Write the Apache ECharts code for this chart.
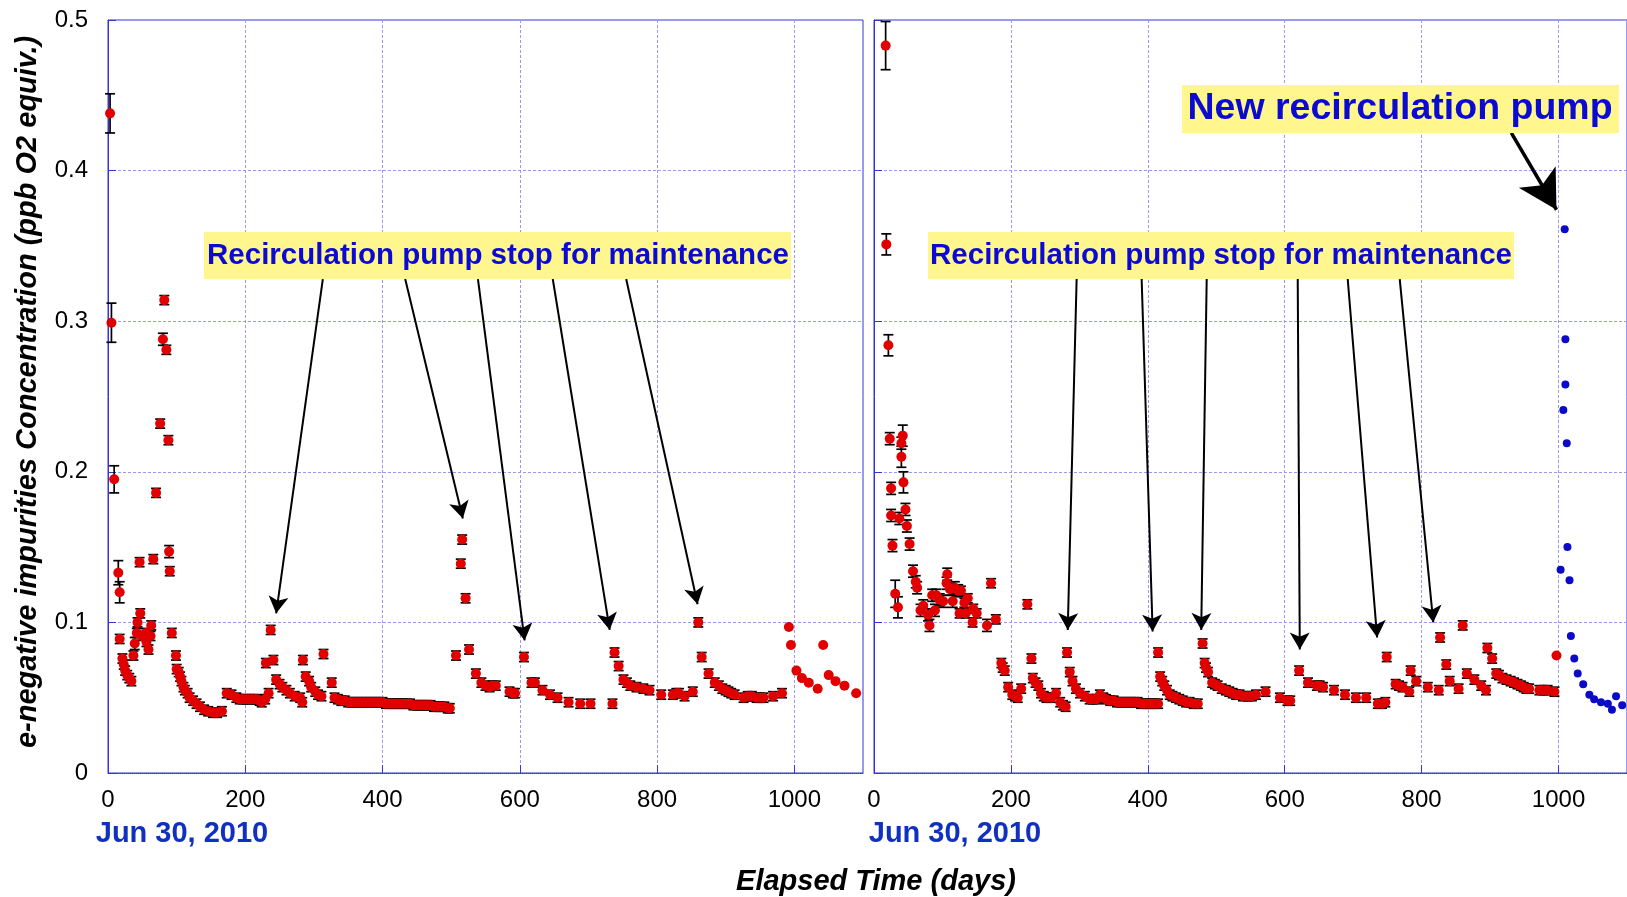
<!DOCTYPE html>
<html>
<head>
<meta charset="utf-8">
<script src="https://cdn.jsdelivr.net/npm/echarts@6/dist/echarts.min.js"></script>
<style>
  html, body { margin: 0; padding: 0; background: #fff; }
  #chart { width: 1627px; height: 897px; }
</style>
</head>
<body>
<div id="chart"></div>
<script>
// 数据: [天数, 浓度, 误差] (误差缺省用 SMALL_ERR)
var SMALL_ERR = 0.003;

var leftRed = [
  [3,0.438,0.013],[5,0.299,0.013],[9,0.195,0.009],[15,0.133,0.008],[17,0.120,0.007],[17,0.089],
  [21,0.076],[23,0.072],[25,0.068],[28,0.065],[31,0.063],[34,0.061],[37,0.078],[39,0.086,0.004],
  [42,0.093],[43,0.100],[46,0.140],[47,0.106],[49,0.091],[55,0.093],[56,0.087],[59,0.082],
  [62,0.091],[63,0.098],[66,0.142],[70,0.186],[76,0.232],[80,0.288,0.004],[82,0.314],[85,0.281],
  [88,0.221],[89,0.147,0.004],[90,0.134],[93,0.093],[99,0.078],[100,0.069],[103,0.067],[105,0.064],
  [107,0.061],[110,0.057],[112,0.055],[116,0.053],[119,0.050],[124,0.048],[129,0.046],[134,0.044],
  [140,0.042],[146,0.041],[153,0.040],[159,0.040],[166,0.041],
  [173,0.053],[180,0.052],[187,0.050],[192,0.049],[197,0.049],[202,0.049],[207,0.049],[212,0.049],
  [217,0.049],[221,0.048],[224,0.047],[229,0.049],[234,0.053],
  [230,0.073],[237,0.095],[241,0.075],[245,0.062],[250,0.059],[254,0.057],[260,0.055],[265,0.053],
  [272,0.051],[280,0.050],[283,0.047],
  [284,0.075],[288,0.064],[293,0.061],[296,0.057],[302,0.054],[306,0.052],[311,0.051],
  [314,0.079],[326,0.060],
  [330,0.050],[335,0.049],[340,0.048],[345,0.048],[350,0.047],[355,0.047],[360,0.047],[365,0.047],
  [370,0.047],[375,0.047],[380,0.047],[385,0.047],[390,0.047],[395,0.047],[400,0.047],[405,0.046],
  [410,0.046],[415,0.046],[420,0.046],[425,0.046],[430,0.046],[435,0.046],[440,0.046],[445,0.045],
  [450,0.045],[455,0.045],[460,0.045],[465,0.045],[470,0.045],[475,0.044],[480,0.044],[485,0.044],
  [490,0.044],[495,0.043],[498,0.043],
  [507,0.078],[514,0.139],[516,0.155],[521,0.116],[526,0.082],[536,0.066],[544,0.060],[550,0.058],
  [556,0.057],[560,0.058],[565,0.058],[585,0.054],[590,0.053],[593,0.053],
  [606,0.077],[617,0.060],[622,0.060],[633,0.055],[644,0.052],[655,0.050],[671,0.047],[688,0.046],
  [703,0.046],
  [735,0.046],[738,0.080],[744,0.071],[751,0.062],[756,0.060],[761,0.058],[770,0.057],[780,0.056],
  [789,0.055],[806,0.052],[823,0.052],[828,0.053],[832,0.053],[840,0.051],[852,0.054],
  [860,0.100],[865,0.077],[875,0.066],[884,0.060],[890,0.058],[895,0.056],[900,0.055],[904,0.054],
  [908,0.053],[913,0.052],[926,0.050],[932,0.051],[938,0.051],[945,0.050],[950,0.050],[955,0.050],
  [969,0.051],[982,0.053]
];
// 无误差棒的点
var leftRedNoErr = [
  [992,0.097],[995,0.085],[1003,0.068],[1011,0.063],[1021,0.060],[1034,0.056],[1042,0.085],
  [1050,0.065],[1060,0.061],[1073,0.058],[1090,0.053]
];

var rightRed = [
  [17,0.483,0.016],[18,0.351,0.007],[21,0.284,0.007],[23,0.222,0.004],[25,0.189,0.004],[25,0.171,0.004],
  [27,0.151,0.004],[31,0.119,0.009],[35,0.110,0.007],[37,0.169,0.004],[40,0.219,0.004],[40,0.210,0.007],
  [42,0.224,0.007],[43,0.193,0.007],[46,0.175,0.004],[48,0.164,0.004],[52,0.152,0.004],[57,0.134,0.004],
  [61,0.127,0.004],[63,0.123,0.004],[68,0.108,0.004],[72,0.111,0.004],[79,0.105,0.004],[81,0.098,0.004],
  [85,0.118,0.004],[89,0.108,0.004],[91,0.118,0.004],[96,0.115,0.004],[101,0.114,0.004],[106,0.126,0.004],
  [107,0.132,0.004],[111,0.122,0.004],[115,0.114,0.004],[118,0.123,0.004],[123,0.121,0.004],[125,0.106],
  [127,0.121],[132,0.113],[134,0.106],[137,0.116],[144,0.100],[145,0.109],[150,0.106],
  [165,0.098,0.004],[171,0.126],[178,0.102],
  [186,0.073],[188,0.070],[191,0.068],[196,0.057],[202,0.052],[206,0.051],[210,0.050],[215,0.056],
  [224,0.112],[230,0.076],[232,0.063],[236,0.060],[240,0.058],[244,0.053],[248,0.051],[252,0.050],
  [259,0.050],[266,0.053],[272,0.047],[276,0.045],[280,0.044],
  [282,0.080],[286,0.067],[290,0.061],[295,0.056],[301,0.053],[308,0.051],[315,0.049],[320,0.049],
  [325,0.049],[330,0.052],[335,0.050],[339,0.049],[345,0.048],[350,0.048],[355,0.047],[360,0.047],
  [365,0.047],[370,0.047],[375,0.047],[380,0.047],[385,0.047],[390,0.046],[395,0.046],[400,0.046],
  [405,0.046],[410,0.046],[415,0.046],
  [415,0.080],[418,0.064],[421,0.061],[424,0.058],[428,0.055],[432,0.052],[436,0.051],[441,0.050],
  [446,0.049],[451,0.048],[456,0.047],[461,0.047],[467,0.046],[473,0.046],
  [480,0.086],[483,0.073],[485,0.070],[488,0.067],[494,0.060],[498,0.059],[502,0.058],[508,0.056],
  [514,0.055],[519,0.054],[524,0.053],[529,0.052],[534,0.052],[539,0.051],[546,0.051],[552,0.051],
  [558,0.052],[572,0.054],[593,0.050],[604,0.048],[608,0.048],
  [621,0.068],[634,0.060],[647,0.058],[651,0.058],[656,0.057],[672,0.055],[688,0.052],[704,0.050],
  [719,0.050],[736,0.046],[742,0.046],[747,0.047],
  [749,0.077],[762,0.059],[767,0.058],[772,0.057],[782,0.054],[784,0.068],[792,0.061],[809,0.057],
  [825,0.055],[827,0.090],[836,0.072],[841,0.061],[854,0.056],[860,0.098],[866,0.066],[877,0.062],
  [887,0.058],[894,0.055],
  [896,0.083],[903,0.076],[909,0.066],[913,0.065],[918,0.063],[924,0.062],[930,0.061],[935,0.060],
  [940,0.059],[945,0.058],[949,0.057],[953,0.056],[957,0.056],[972,0.055],[978,0.055],[984,0.055],
  [994,0.054]
];
var rightRedNoErr = [[997,0.078]];

// 新循环泵之后
var rightBlue = [
  [1003,0.135],[1007,0.241],[1009,0.361],[1010,0.288],[1010,0.258],[1012,0.219],[1013,0.150],
  [1016,0.128],[1018,0.091],[1023,0.076],[1028,0.066],[1036,0.059],[1045,0.052],[1052,0.049],
  [1062,0.047],[1072,0.046],[1078,0.042],[1084,0.051],[1093,0.045]
];

// 箭头: [起点天数, 起点浓度, 终点天数, 终点浓度]
var leftArrows = [
  [313,0.328,245,0.106],[433,0.328,517,0.169],[539,0.328,607,0.088],
  [648,0.328,731,0.095],[755,0.328,859,0.112]
];
var rightArrows = [
  [296,0.328,283,0.095],[391,0.328,407,0.094],[486,0.328,478,0.095],
  [619,0.328,622,0.082],[692,0.328,735,0.090],[768,0.328,817,0.100]
];
var pumpArrow = [[931,0.425,997,0.374]];

var xTicks = [0, 200, 400, 600, 800, 1000];
var yTicks = [0, 0.1, 0.2, 0.3, 0.4, 0.5];

var FONT = 'Liberation Sans, Arial, Helvetica, sans-serif';
var AXIS_BLUE = '#3434d6';
var GRID_BLUE = '#9a9af0';

var myChart = echarts.init(document.getElementById('chart'));

function withErr(arr) {
  return arr.map(function (p) { return [p[0], p[1], p.length > 2 ? p[2] : SMALL_ERR]; });
}

function renderErr(params, api) {
  var x = api.value(0), y = api.value(1), e = api.value(2);
  var top = api.coord([x, y + e]);
  var bot = api.coord([x, y - e]);
  var w = 5;
  var st = { stroke: '#000', lineWidth: 1.7 };
  return {
    type: 'group',
    children: [
      { type: 'line', shape: { x1: top[0], y1: top[1], x2: bot[0], y2: bot[1] }, style: st },
      { type: 'line', shape: { x1: top[0] - w, y1: top[1], x2: top[0] + w, y2: top[1] }, style: st },
      { type: 'line', shape: { x1: bot[0] - w, y1: bot[1], x2: bot[0] + w, y2: bot[1] }, style: st }
    ]
  };
}

function arrowLines(list) {
  return list.map(function (a) {
    return [{ coord: [a[0], a[1]] }, { coord: [a[2], a[3]] }];
  });
}

function xAxisFor(idx, showLabel) {
  return {
    gridIndex: idx, type: 'value', min: 0, max: 1100, interval: 200,
    axisLine: { show: true, lineStyle: { color: AXIS_BLUE, width: 1, type: 'dotted' } },
    axisTick: { show: true, inside: true, length: 8, lineStyle: { color: AXIS_BLUE } },
    axisLabel: {
      show: showLabel, showMaxLabel: false, fontSize: 24, color: '#000', fontFamily: FONT, margin: 15,
      formatter: function (v) { return xTicks.indexOf(v) >= 0 ? String(v) : ''; }
    },
    splitLine: { show: true, lineStyle: { color: GRID_BLUE, width: 1, type: [3, 2] } }
  };
}

function yAxisFor(idx, showLabel) {
  return {
    gridIndex: idx, type: 'value', min: 0, max: 0.5, interval: 0.1,
    axisLine: { show: true, lineStyle: { color: AXIS_BLUE, width: 1 } },
    axisTick: { show: true, inside: true, length: 8, lineStyle: { color: AXIS_BLUE } },
    axisLabel: {
      show: showLabel, fontSize: 24, color: '#000', fontFamily: FONT, margin: 20,
      formatter: function (v) {
        var k = Math.round(v * 10);
        return k === 0 ? '0' : (yTicks[k]).toFixed(1);
      }
    },
    splitLine: { show: true, lineStyle: { color: GRID_BLUE, width: 1, type: [3, 2] } }
  };
}

var arrowStyle = { color: '#000', width: 2, type: 'solid' };

var option = {
  animation: false,
  grid: [
    { left: 108, top: 20, width: 755, height: 753, show: true, borderColor: AXIS_BLUE, borderWidth: 1 },
    { left: 874, top: 20, width: 755, height: 753, show: true, borderColor: AXIS_BLUE, borderWidth: 1 }
  ],
  xAxis: [xAxisFor(0, true), xAxisFor(1, true)],
  yAxis: [yAxisFor(0, true), yAxisFor(1, false)],
  series: [
    // 误差棒
    { type: 'custom', xAxisIndex: 0, yAxisIndex: 0, data: withErr(leftRed), renderItem: renderErr,
      encode: { x: 0, y: 1 }, silent: true, z: 2 },
    { type: 'custom', xAxisIndex: 1, yAxisIndex: 1, data: withErr(rightRed), renderItem: renderErr,
      encode: { x: 0, y: 1 }, silent: true, z: 2 },
    // 左图
    { type: 'scatter', xAxisIndex: 0, yAxisIndex: 0, data: leftRed.map(function (p) { return [p[0], p[1]]; }).concat(leftRedNoErr),
      symbolSize: 10, itemStyle: { color: '#e00000', opacity: 1 }, silent: true, z: 3,
      markLine: { silent: true, symbol: ['none', 'arrow'], symbolSize: [15, 17], label: { show: false },
        lineStyle: arrowStyle, data: arrowLines(leftArrows) } },
    // 右图
    { type: 'scatter', xAxisIndex: 1, yAxisIndex: 1, data: rightRed.map(function (p) { return [p[0], p[1]]; }).concat(rightRedNoErr),
      symbolSize: 10, itemStyle: { color: '#e00000', opacity: 1 }, silent: true, z: 3,
      markLine: { silent: true, symbol: ['none', 'arrow'], symbolSize: [15, 17], label: { show: false },
        lineStyle: arrowStyle, data: arrowLines(rightArrows) } },
    { type: 'scatter', xAxisIndex: 1, yAxisIndex: 1, data: rightBlue,
      symbolSize: 8, itemStyle: { color: '#0a0ac8', opacity: 1 }, silent: true, z: 3,
      markLine: { silent: true, symbol: ['none', 'arrow'], symbolSize: [32, 38], label: { show: false },
        lineStyle: { color: '#000', width: 3.5, type: 'solid' }, data: arrowLines(pumpArrow) } }
  ],
  graphic: [
    { type: 'rect', shape: { x: 204, y: 232, width: 587, height: 47 }, style: { fill: '#fff68e' }, z: 10 },
    { type: 'text', x: 498, y: 256, z: 11,
      style: { text: 'Recirculation pump stop for maintenance', fill: '#0a0ad2', font: 'bold 29.5px ' + FONT,
        textAlign: 'center', textVerticalAlign: 'middle' } },
    { type: 'rect', shape: { x: 928, y: 232, width: 586, height: 47 }, style: { fill: '#fff68e' }, z: 10 },
    { type: 'text', x: 1221, y: 256, z: 11,
      style: { text: 'Recirculation pump stop for maintenance', fill: '#0a0ad2', font: 'bold 29.5px ' + FONT,
        textAlign: 'center', textVerticalAlign: 'middle' } },
    { type: 'rect', shape: { x: 1182, y: 85, width: 437, height: 48 }, style: { fill: '#fff68e' }, z: 10 },
    { type: 'text', x: 1400, y: 109, z: 11,
      style: { text: 'New recirculation pump', fill: '#0a0ad2', font: 'bold 37.5px ' + FONT,
        textAlign: 'center', textVerticalAlign: 'middle' } },
    { type: 'text', x: 182, y: 834, z: 11,
      style: { text: 'Jun 30, 2010', fill: '#1030c0', font: 'bold 29px ' + FONT,
        textAlign: 'center', textVerticalAlign: 'middle' } },
    { type: 'text', x: 955, y: 834, z: 11,
      style: { text: 'Jun 30, 2010', fill: '#1030c0', font: 'bold 29px ' + FONT,
        textAlign: 'center', textVerticalAlign: 'middle' } },
    { type: 'text', x: 876, y: 882, z: 11,
      style: { text: 'Elapsed Time (days)', fill: '#000', font: 'italic bold 29px ' + FONT,
        textAlign: 'center', textVerticalAlign: 'middle' } },
    { type: 'text', x: 28, y: 392, rotation: Math.PI / 2, z: 11,
      style: { text: 'e-negative impurities Concentration (ppb O2 equiv.)', fill: '#000', font: 'italic bold 29px ' + FONT,
        textAlign: 'center', textVerticalAlign: 'middle' } }
  ]
};

myChart.setOption(option);
</script>
</body>
</html>
